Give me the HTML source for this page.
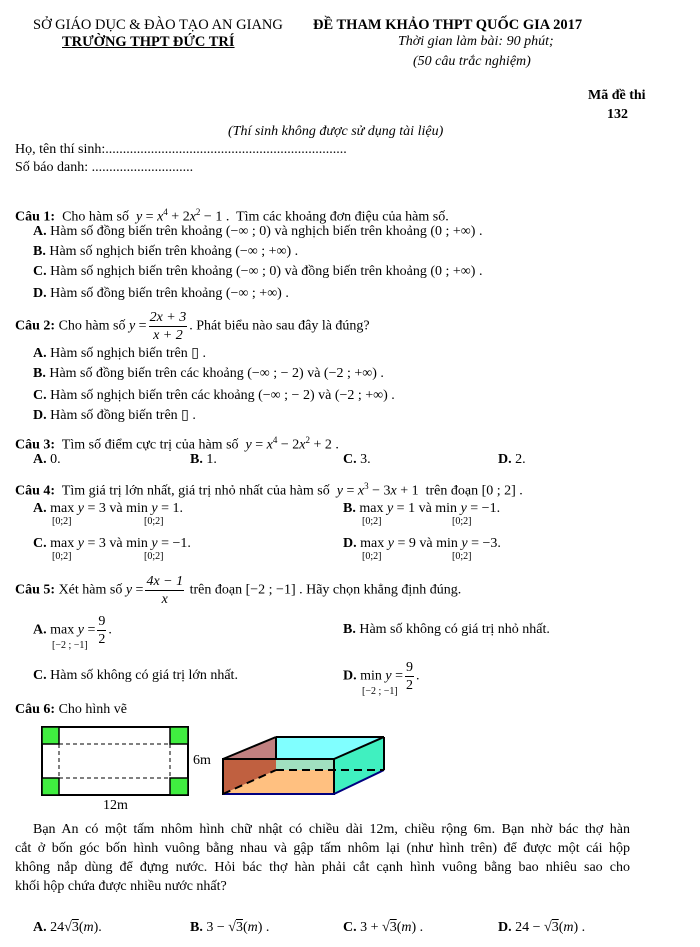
<!DOCTYPE html>
<html><head><meta charset="utf-8">
<style>
body{margin:0;background:#fff;width:700px;height:947px;position:relative;overflow:hidden;font-family:"Liberation Serif","DejaVu Serif",serif;font-size:14px;color:#000}
.l{position:absolute;white-space:nowrap;line-height:16px}
b{font-weight:bold}
i{font-style:italic}
.j{text-align:justify;text-align-last:justify;white-space:normal}
.sub{position:absolute;font-size:10px;line-height:10px}
.fr{display:inline-block;vertical-align:middle;text-align:center;font-style:italic;line-height:17px;margin:0 2px}
.fr span{display:block;padding:0 1px}
.fr .n{border-bottom:1px solid #000}
</style></head><body>
<div class="l" style="left:33px;top:17px;font-size:14.5px">SỞ GIÁO DỤC &amp; ĐÀO TẠO AN GIANG</div>
<div class="l" style="left:313px;top:17px;font-weight:bold;font-size:14.5px">ĐỀ THAM KHẢO THPT QUỐC GIA 2017</div>
<div class="l" style="left:62px;top:34px;font-weight:bold;text-decoration:underline;font-size:14.5px">TRƯỜNG THPT ĐỨC TRÍ</div>
<div class="l" style="left:398px;top:34px;font-style:italic">Thời gian làm bài: 90 phút;</div>
<div class="l" style="left:413px;top:54px;font-style:italic">(50 câu trắc nghiệm)</div>
<div class="l" style="left:588px;top:88px;font-weight:bold">Mã đề thi</div>
<div class="l" style="left:607px;top:107px;font-weight:bold">132</div>
<div class="l" style="left:228px;top:124px;font-style:italic">(Thí sinh không được sử dụng tài liệu)</div>
<div class="l" style="left:15px;top:142px">Họ, tên thí sinh:.....................................................................</div>
<div class="l" style="left:15px;top:160px">Số báo danh: .............................</div>

<div class="l" style="left:15px;top:204px"><b>Câu 1:</b>&nbsp; Cho hàm số&nbsp; <i>y</i> = <i>x</i><sup style="font-size:9px">4</sup> + 2<i>x</i><sup style="font-size:9px">2</sup> − 1 .&nbsp; Tìm các khoảng đơn điệu của hàm số.</div>
<div class="l" style="left:33px;top:224px"><b>A.</b> Hàm số đồng biến trên khoảng (−∞ ; 0) và nghịch biến trên khoảng (0 ; +∞) .</div>
<div class="l" style="left:33px;top:244px"><b>B.</b> Hàm số nghịch biến trên khoảng (−∞ ; +∞) .</div>
<div class="l" style="left:33px;top:264px"><b>C.</b> Hàm số nghịch biến trên khoảng (−∞ ; 0) và đồng biến trên khoảng (0 ; +∞) .</div>
<div class="l" style="left:33px;top:286px"><b>D.</b> Hàm số đồng biến trên khoảng (−∞ ; +∞) .</div>

<div class="l" style="left:15px;top:309px"><b>Câu 2:</b> Cho hàm số <i>y</i> =<div class="fr"><span class="n">2<i>x</i> + 3</span><span><i>x</i> + 2</span></div>. Phát biểu nào sau đây là đúng?</div>
<div class="l" style="left:33px;top:346px"><b>A.</b> Hàm số nghịch biến trên ▯ .</div>
<div class="l" style="left:33px;top:366px"><b>B.</b> Hàm số đồng biến trên các khoảng (−∞ ; − 2) và (−2 ; +∞) .</div>
<div class="l" style="left:33px;top:388px"><b>C.</b> Hàm số nghịch biến trên các khoảng (−∞ ; − 2) và (−2 ; +∞) .</div>
<div class="l" style="left:33px;top:408px"><b>D.</b> Hàm số đồng biến trên ▯ .</div>

<div class="l" style="left:15px;top:432px"><b>Câu 3:</b>&nbsp; Tìm số điểm cực trị của hàm số&nbsp; <i>y</i> = <i>x</i><sup style="font-size:9px">4</sup> − 2<i>x</i><sup style="font-size:9px">2</sup> + 2 .</div>
<div class="l" style="left:33px;top:452px"><b>A.</b> 0.</div>
<div class="l" style="left:190px;top:452px"><b>B.</b> 1.</div>
<div class="l" style="left:343px;top:452px"><b>C.</b> 3.</div>
<div class="l" style="left:498px;top:452px"><b>D.</b> 2.</div>

<div class="l" style="left:15px;top:478px"><b>Câu 4:</b>&nbsp; Tìm giá trị lớn nhất, giá trị nhỏ nhất của hàm số&nbsp; <i>y</i> = <i>x</i><sup style="font-size:9px">3</sup> − 3<i>x</i> + 1&nbsp; trên đoạn [0 ; 2] .</div>
<div class="l" style="left:33px;top:501px"><b>A.</b> max <i>y</i> = 3 và min <i>y</i> = 1.</div>
<div class="sub" style="left:52px;top:517px">[0;2]</div><div class="sub" style="left:144px;top:517px">[0;2]</div>
<div class="l" style="left:343px;top:501px"><b>B.</b> max <i>y</i> = 1 và min <i>y</i> = −1.</div>
<div class="sub" style="left:362px;top:517px">[0;2]</div><div class="sub" style="left:452px;top:517px">[0;2]</div>
<div class="l" style="left:33px;top:536px"><b>C.</b> max <i>y</i> = 3 và min <i>y</i> = −1.</div>
<div class="sub" style="left:52px;top:552px">[0;2]</div><div class="sub" style="left:144px;top:552px">[0;2]</div>
<div class="l" style="left:343px;top:536px"><b>D.</b> max <i>y</i> = 9 và min <i>y</i> = −3.</div>
<div class="sub" style="left:362px;top:552px">[0;2]</div><div class="sub" style="left:452px;top:552px">[0;2]</div>

<div class="l" style="left:15px;top:573px"><b>Câu 5:</b> Xét hàm số <i>y</i> =<div class="fr"><span class="n">4<i>x</i> − 1</span><span><i>x</i></span></div> trên đoạn [−2 ; −1] . Hãy chọn khẳng định đúng.</div>
<div class="l" style="left:33px;top:613px"><b>A.</b> max <i>y</i> =<div class="fr" style="font-style:normal"><span class="n">9</span><span>2</span></div>.</div>
<div class="sub" style="left:52px;top:641px">[−2 ; −1]</div>
<div class="l" style="left:343px;top:622px"><b>B.</b> Hàm số không có giá trị nhỏ nhất.</div>
<div class="l" style="left:33px;top:668px"><b>C.</b> Hàm số không có giá trị lớn nhất.</div>
<div class="l" style="left:343px;top:659px"><b>D.</b> min <i>y</i> =<div class="fr" style="font-style:normal"><span class="n">9</span><span>2</span></div>.</div>
<div class="sub" style="left:362px;top:687px">[−2 ; −1]</div>

<div class="l" style="left:15px;top:702px"><b>Câu 6:</b> Cho hình vẽ</div>

<svg style="position:absolute;left:0;top:0" width="700" height="947">
<rect x="42" y="727" width="146" height="68" fill="#fff" stroke="#000" stroke-width="2"/>
<g fill="#40ee40" stroke="#000" stroke-width="1.5">
<rect x="42" y="727" width="17" height="17"/><rect x="170" y="727" width="18" height="17"/>
<rect x="42" y="778" width="17" height="17"/><rect x="170" y="778" width="18" height="17"/>
</g>
<g stroke="#000" stroke-width="1" stroke-dasharray="4,3" fill="none">
<line x1="59" y1="744" x2="170" y2="744"/><line x1="59" y1="778" x2="170" y2="778"/>
<line x1="59" y1="744" x2="59" y2="778"/><line x1="170" y1="744" x2="170" y2="778"/>
</g>
<polygon points="276,737 384,737 334,759 276,759" fill="#80ffff"/>
<polygon points="223,759 276,737 276,759" fill="#c08080"/>
<polygon points="276,759 334,759 334,770 276,770" fill="#a0e0c0"/>
<polygon points="223,794 276,770 384,770 334,794" fill="#ffc080"/>
<polygon points="223,759 276,759 276,770 223,794" fill="#c06040"/>
<polygon points="334,759 384,737 384,770 334,794" fill="#40f0c0"/>
<g stroke="#000" stroke-width="2" fill="none">
<polygon points="223,759 334,759 334,794 223,794"/>
<line x1="223" y1="759" x2="276" y2="737"/><line x1="276" y1="737" x2="384" y2="737"/>
<line x1="334" y1="759" x2="384" y2="737"/><line x1="384" y1="737" x2="384" y2="770"/>
<line x1="276" y1="737" x2="276" y2="759"/>
</g>
<line x1="223" y1="794" x2="334" y2="794" stroke="#000080" stroke-width="2"/>
<line x1="334" y1="794" x2="384" y2="770" stroke="#000080" stroke-width="2"/>
<g stroke="#000" stroke-width="2" stroke-dasharray="8,5" fill="none">
<line x1="276" y1="770" x2="384" y2="770"/><line x1="223" y1="794" x2="276" y2="770"/>
</g>
</svg>
<div class="l" style="left:193px;top:753px">6m</div>
<div class="l" style="left:103px;top:798px">12m</div>

<div class="l j" style="left:33px;top:822px;width:597px">Bạn An có một tấm nhôm hình chữ nhật có chiều dài 12m, chiều rộng 6m. Bạn nhờ bác thợ hàn</div>
<div class="l j" style="left:15px;top:841px;width:615px">cắt ở bốn góc bốn hình vuông bằng nhau và gập tấm nhôm lại (như hình trên) để được một cái hộp</div>
<div class="l j" style="left:15px;top:860px;width:615px">không nắp dùng để đựng nước. Hỏi bác thợ hàn phải cắt cạnh hình vuông bằng bao nhiêu sao cho</div>
<div class="l" style="left:15px;top:879px">khối hộp chứa được nhiều nước nhất?</div>

<div class="l" style="left:33px;top:920px"><b>A.</b> 24√<span style="text-decoration:overline">3</span>(<i>m</i>).</div>
<div class="l" style="left:190px;top:920px"><b>B.</b> 3 − √<span style="text-decoration:overline">3</span>(<i>m</i>) .</div>
<div class="l" style="left:343px;top:920px"><b>C.</b> 3 + √<span style="text-decoration:overline">3</span>(<i>m</i>) .</div>
<div class="l" style="left:498px;top:920px"><b>D.</b> 24 − √<span style="text-decoration:overline">3</span>(<i>m</i>) .</div>
</body></html>
